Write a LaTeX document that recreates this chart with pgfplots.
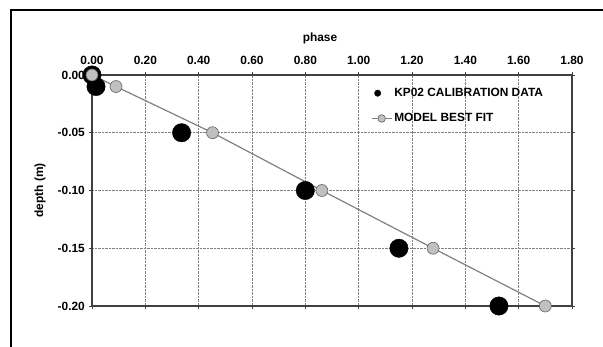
\documentclass[border=0pt]{standalone}
\usepackage{pgfplots}
\pgfplotsset{compat=1.18}
\usepackage{fontspec}
\setmainfont{Liberation Sans}

\definecolor{axisgray}{HTML}{404040}
\definecolor{fitline}{HTML}{808080}
\definecolor{fitfill}{HTML}{C0C0C0}
\definecolor{fitedge}{HTML}{606060}

\newcommand{\chartfont}{\bfseries\fontsize{11.9}{14}\selectfont}

\begin{document}
\begin{tikzpicture}[x=1pt,y=1pt]
\useasboundingbox (0,0) rectangle (603,347);
% outer frame (top and left edges)
\draw[line width=2pt,black] (11,0) -- (11,336.5) -- (603,336.5);

\begin{axis}[
  at={(92pt,41pt)}, anchor=south west,
  scale only axis, width=480pt, height=231pt,
  xmin=0, xmax=1.8, ymin=-0.2, ymax=0,
  xtick={0,0.2,...,1.81}, ytick={-0.2,-0.15,-0.1,-0.05,0},
  xticklabel pos=top,
  /pgf/number format/.cd, fixed, fixed zerofill, precision=2, assume math mode=true,
  /pgfplots/.cd,
  tick align=outside, major tick length=3pt,
  tick style={axisgray, line width=0.6pt},
  axis line style={axisgray, line width=1.4pt},
  grid=major,
  grid style={densely dotted, fitline, line width=0.6pt},
  ticklabel style={font=\chartfont},
  xticklabel style={inner sep=0pt, anchor=south, yshift=7pt},
  yticklabel style={inner sep=0pt, anchor=east, xshift=-4pt},
  xlabel={phase},
  xlabel style={font=\chartfont, at={(axis description cs:0.475,1)}, anchor=base, yshift=33pt, inner sep=0pt},
  ylabel={depth (m)},
  ylabel style={font=\chartfont, at={(axis description cs:-0.1083,0.5)}, anchor=center, inner sep=0pt},
  clip=false,
  legend style={at={(0.581,0.952)}, anchor=north west, draw=none, fill=none,
    font=\chartfont, row sep=11.5pt, inner sep=0pt,
    cells={anchor=west}},
  legend cell align=left,
]
\addplot[only marks, mark=*, mark size=9.2pt, mark options={fill=black, draw=black},
  legend image code/.code={\fill[black] (6pt,0) circle (3.2pt);}]
  coordinates {(0,0) (0.015,-0.01) (0.336,-0.05) (0.80,-0.10) (1.151,-0.15) (1.526,-0.20)};
\addlegendentry{KP02 CALIBRATION DATA}
\addplot[fitline, line width=1.2pt, mark=*, mark size=6pt,
  mark options={fill=fitfill, draw=fitedge, line width=0.6pt},
  legend image code/.code={\draw[fitline, line width=1.2pt] (0,0) -- (20pt,0);
    \filldraw[fill=fitfill, draw=fitedge, line width=0.6pt] (10pt,0) circle (3.8pt);}]
  coordinates {(0,0) (0.09,-0.01) (0.452,-0.05) (0.862,-0.10) (1.279,-0.15) (1.70,-0.20)};
\addlegendentry{MODEL BEST FIT}
\end{axis}
\end{tikzpicture}
\end{document}
